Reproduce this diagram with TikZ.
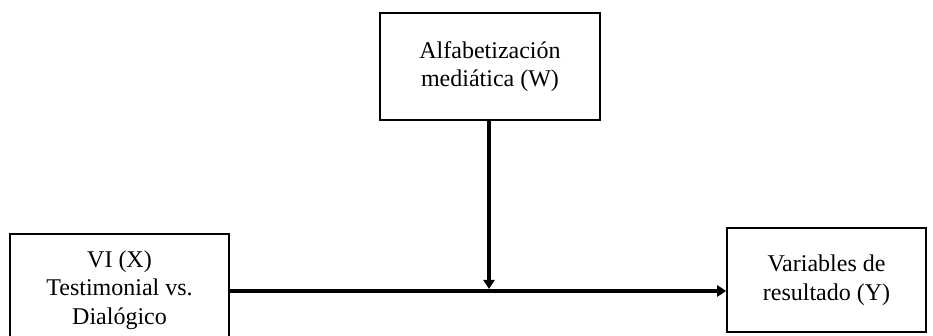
\documentclass[tikz,border=0pt]{standalone}
\usepackage{fontspec}
\setmainfont{Liberation Serif}
\usetikzlibrary{arrows.meta}
\begin{document}
\begin{tikzpicture}[x=1pt,y=1pt,
  box/.style={draw=black, line width=1.6pt, fill=white, align=center,
    inner sep=0pt, font=\fontsize{24}{28.5}\selectfont},
  link/.style={line width=3.2pt, -{Triangle[length=9pt,width=11pt]}}]
  \useasboundingbox (0,0) rectangle (933,336);
  \begin{scope}
    \clip (0,0) rectangle (933,336);
    % moderator, predictor and outcome boxes
    \node[box, minimum width=220pt, minimum height=107pt] (w) at (490,269.5)
      {Alfabetización\\mediática (W)};
    \node[box, minimum width=219pt, minimum height=112pt] (x) at (119.5,46)
      {VI (X)\\Testimonial vs.\\Dialógico};
    \node[box, minimum width=199pt, minimum height=104pt] (y) at (826.5,56)
      {Variables de\\resultado (Y)};
  \end{scope}
  % main path X -> Y and the moderating path onto it
  \coordinate (m) at (489,45);
  \draw[link] (x.east |- m) -- (y.west |- m);
  \draw[link] (w.south -| m) -- ([yshift=2pt]m);
\end{tikzpicture}
\end{document}
